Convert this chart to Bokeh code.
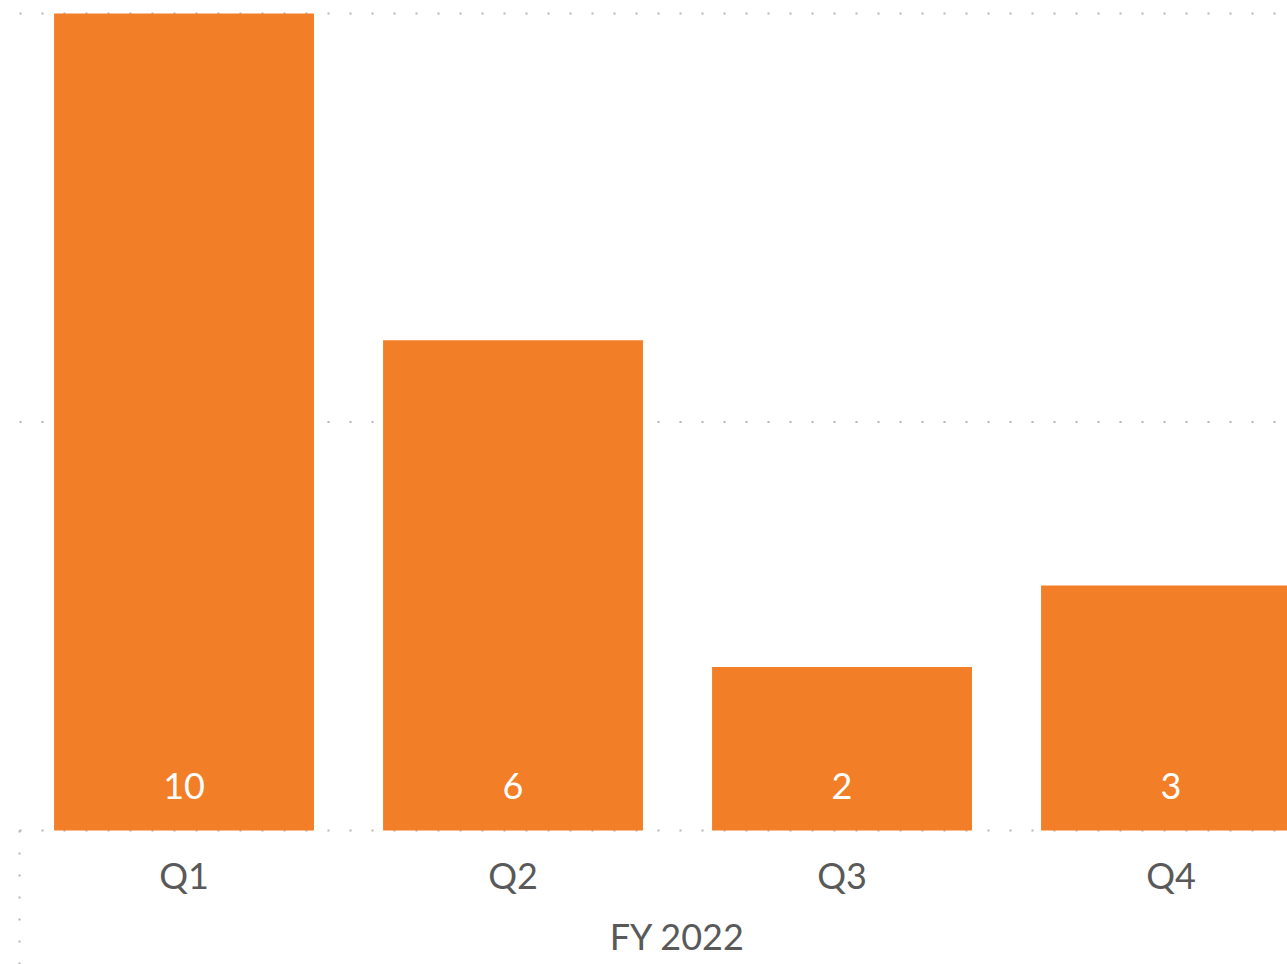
from bokeh.plotting import figure
from bokeh.models import Range1d, ColumnDataSource
from bokeh.core.properties import value
from bokeh.embed import file_html
from bokeh.resources import INLINE

# ---- data ----
categories = ["Q1", "Q2", "Q3", "Q4"]
counts = [10, 6, 2, 3]
group_label = "FY 2022"
grid_values = [0, 5, 10]

BAR = "#F27F27"
TEXT = "#595959"
GRID = "#b4b4b4"
FONT = value("Lato")
FSIZE = "36px"

x_start, x_end = -0.0578, 3.854
y_start, y_end = -1.640, 10.159

p = figure(width=1287, height=964, x_range=Range1d(x_start, x_end),
           y_range=Range1d(y_start, y_end), output_backend="svg",
           toolbar_location=None, x_axis_type=None, y_axis_type=None,
           min_border=0)
p.grid.visible = False
p.outline_line_color = None
p.background_fill_color = "white"

# gridlines (dotted)
p.segment(x0=[0] * len(grid_values), x1=[x_end] * len(grid_values),
          y0=grid_values, y1=grid_values, line_color=GRID, line_width=2,
          line_dash="2 20")
# category axis left separator
p.segment(x0=[0], x1=[0], y0=[0], y1=[y_start], line_color=GRID,
          line_width=2, line_dash="2 20")

xs = [i + 0.5 for i in range(len(categories))]
src = ColumnDataSource(dict(x=xs, top=counts, lab=[str(c) for c in counts],
                            cat=categories))
p.vbar(x="x", top="top", bottom=0, width=0.79, source=src,
       fill_color=BAR, line_color=None)

# data labels inside bar base
p.text(x="x", y=0.545, text="lab", source=src, text_color="white",
       text_font=FONT, text_font_size=FSIZE, text_align="center",
       text_baseline="middle")
# category labels
p.text(x="x", y=-0.545, text="cat", source=src, text_color=TEXT,
       text_font=FONT, text_font_size=FSIZE, text_align="center",
       text_baseline="middle")
# group label
p.text(x=[len(categories) / 2], y=[-1.29], text=[group_label],
       text_color=TEXT, text_font=FONT, text_font_size=FSIZE,
       text_align="center", text_baseline="middle")

open("out.html", "w").write(file_html(p, INLINE))
